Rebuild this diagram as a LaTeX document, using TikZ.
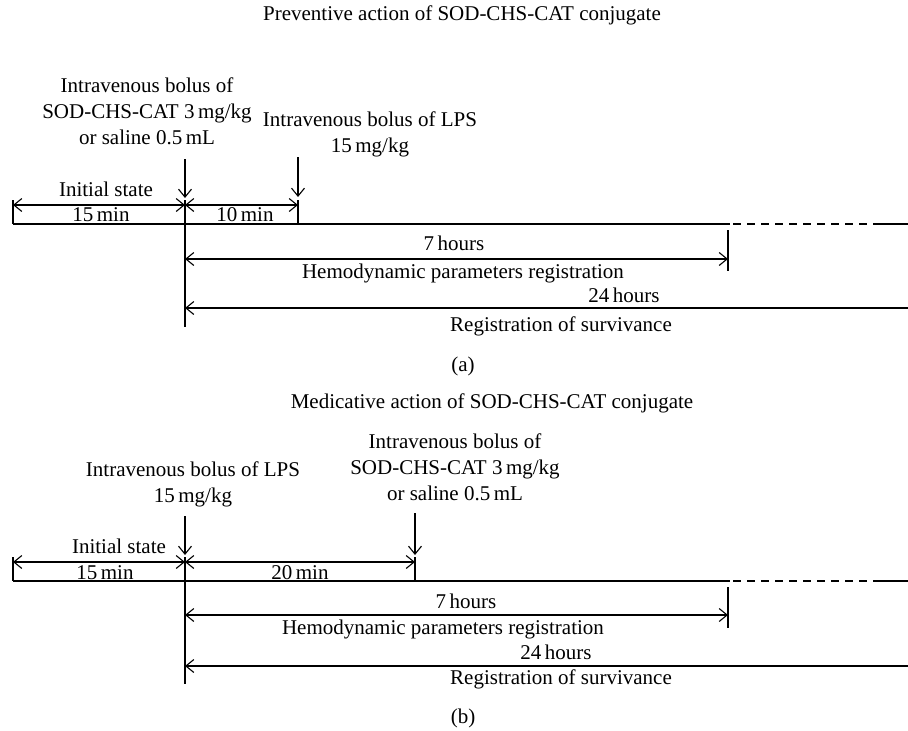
\documentclass[tikz,border=0pt]{standalone}
\usepackage{fontspec}
\setmainfont{Liberation Serif}
\usetikzlibrary{arrows.meta}
\begin{document}
\begin{tikzpicture}[x=1pt,y=-1pt,
  line width=1.1pt,
  >={Straight Barb[length=8pt,width=13pt,line width=1.1pt]},
  dimarrow/.style={<->},
  downarrow/.style={->},
  leftarrow/.style={<-},
  lbl/.style={inner sep=0pt, font=\fontsize{21}{26}\selectfont, align=center},
  dashpart/.style={dash pattern=on 8pt off 6pt}
]
\path[use as bounding box] (0,0) rectangle (908,731);

% ================= panel (a) =================
\node[lbl] (ta) at (462,15) {Preventive action of SOD-CHS-CAT conjugate};
\node[lbl] (sa) at (147,111) {Intravenous bolus of\\SOD-CHS-CAT 3\,mg/kg\\or saline 0.5\,mL};
\node[lbl] (la) at (370,134) {Intravenous bolus of LPS\\15\,mg/kg};

\coordinate (a0) at (13,224);
\coordinate (a1) at (185,224);
\coordinate (a2) at (298,224);
\coordinate (a3) at (730,224);
\coordinate (a4) at (733,224);
\coordinate (a5) at (867,224);
\coordinate (a6) at (873,224);
\coordinate (a7) at (908,224);

\draw (a0) -- (a3);
\draw[dashpart] (a4) -- (a5);
\draw (a6) -- (a7);

\coordinate (a0t) at (13,200);
\coordinate (a1t) at (185,200);
\coordinate (a1b) at (185,327);
\coordinate (a2t) at (298,200);
\draw (a0t) -- (a0);
\draw (a1t) -- (a1b);
\draw (a2t) -- (a2);

\coordinate (da1s) at (185,159);
\coordinate (da1e) at (185,198);
\coordinate (da2s) at (298,157);
\coordinate (da2e) at (298,197);
\draw[downarrow] (da1s) -- (da1e);
\draw[downarrow] (da2s) -- (da2e);

\coordinate (d0) at (13,205);
\coordinate (d1) at (185,205);
\coordinate (d2) at (298,205);
\draw[dimarrow] (d0) -- (d1);
\draw[dimarrow] (d1) -- (d2);
\node[lbl] (isa) at (106,189) {Initial state};
\node[lbl] (m15a) at (101,215) {15\,min};
\node[lbl] (m10a) at (245,215) {10\,min};

\coordinate (h0) at (185,259);
\coordinate (h1) at (728,259);
\coordinate (h1t) at (728,230);
\coordinate (h1b) at (728,271);
\draw (h1t) -- (h1b);
\draw[dimarrow] (h0) -- (h1);
\node[lbl] (h7a) at (454,243) {7\,hours};
\node[lbl] (hema) at (463,273) {Hemodynamic parameters registration};

\coordinate (s0) at (185,308);
\coordinate (s1) at (908,308);
\draw[leftarrow] (s0) -- (s1);
\node[lbl] (h24a) at (624,295) {24\,hours};
\node[lbl] (rega) at (561,326) {Registration of survivance};
\node[lbl] (capa) at (463,366) {(a)};

% ================= panel (b) =================
\node[lbl] (tb) at (492,403) {Medicative action of SOD-CHS-CAT conjugate};
\node[lbl] (lb) at (193,484) {Intravenous bolus of LPS\\15\,mg/kg};
\node[lbl] (sb) at (455,467) {Intravenous bolus of\\SOD-CHS-CAT 3\,mg/kg\\or saline 0.5\,mL};

\coordinate (b0) at (13,581);
\coordinate (b1) at (185,581);
\coordinate (b2) at (415,581);
\coordinate (b3) at (730,581);
\coordinate (b4) at (733,581);
\coordinate (b5) at (867,581);
\coordinate (b6) at (873,581);
\coordinate (b7) at (908,581);

\draw (b0) -- (b3);
\draw[dashpart] (b4) -- (b5);
\draw (b6) -- (b7);

\coordinate (b0t) at (13,557);
\coordinate (b1t) at (185,557);
\coordinate (b1b) at (185,684);
\coordinate (b2t) at (415,557);
\draw (b0t) -- (b0);
\draw (b1t) -- (b1b);
\draw (b2t) -- (b2);

\coordinate (db1s) at (185,516);
\coordinate (db1e) at (185,555);
\coordinate (db2s) at (415,513);
\coordinate (db2e) at (415,555);
\draw[downarrow] (db1s) -- (db1e);
\draw[downarrow] (db2s) -- (db2e);

\coordinate (e0) at (13,562);
\coordinate (e1) at (185,562);
\coordinate (e2) at (415,562);
\draw[dimarrow] (e0) -- (e1);
\draw[dimarrow] (e1) -- (e2);
\node[lbl] (isb) at (119,546) {Initial state};
\node[lbl] (m15b) at (105,573) {15\,min};
\node[lbl] (m20b) at (300,573) {20\,min};

\coordinate (g0) at (185,615);
\coordinate (g1) at (728,615);
\coordinate (g1t) at (728,587);
\coordinate (g1b) at (728,628);
\draw (g1t) -- (g1b);
\draw[dimarrow] (g0) -- (g1);
\node[lbl] (h7b) at (466,601) {7\,hours};
\node[lbl] (hemb) at (443,629) {Hemodynamic parameters registration};

\coordinate (r0) at (185,666);
\coordinate (r1) at (908,666);
\draw[leftarrow] (r0) -- (r1);
\node[lbl] (h24b) at (556,652) {24\,hours};
\node[lbl] (regb) at (561,679) {Registration of survivance};
\node[lbl] (capb) at (463,718) {(b)};
\end{tikzpicture}
\end{document}
